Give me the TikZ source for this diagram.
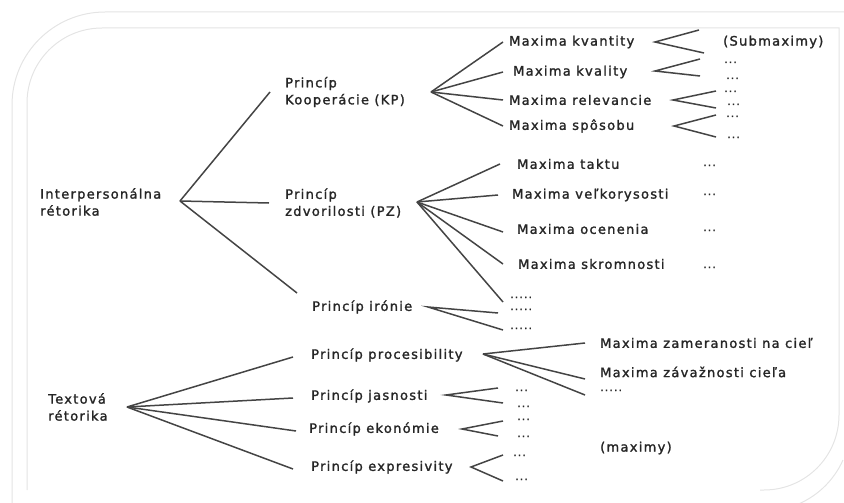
\documentclass[tikz,border=0pt]{standalone}
\usepackage{fontspec}
\usepackage{tikz}
\newfontfamily\diagfont{DejaVu Sans}[LetterSpace=10, FakeBold=1.6]
\newcommand\lbl{\diagfont\fontsize{13}{17}\selectfont}
\definecolor{ink}{HTML}{262626}
\definecolor{wire}{HTML}{444444}
\definecolor{rimgray}{HTML}{E4E4E4}

\begin{document}
\begin{tikzpicture}[x=1pt, y=-1pt,
  every node/.style={anchor=west, inner sep=0pt, text=ink, font=\lbl},
  dots/.style={anchor=base west, text height=2pt, text depth=0pt, font=\diagfont\fontsize{11}{13}\selectfont},
  wire/.style={draw=wire, line width=1.5pt},
  rim/.style={draw=rimgray, line width=1pt}]
  \useasboundingbox (0,0) rectangle (844,503);

  % faint frame
  \draw[rim] (12,503) -- (12,105) arc[start angle=180, end angle=270, radius=93] -- (844,12);
  \draw[rim] (27,490) -- (27,103) arc[start angle=180, end angle=270, radius=75] -- (839,28)
    -- (839,415) arc[start angle=0, end angle=90, radius=75] -- (760,490);
  \draw[rim] (843,460) arc[start angle=24, end angle=70, radius=86];

  % roots
  \node[align=left] (ip) at (40,202) {Interpersonálna\\rétorika};
  \node[align=left] (tr) at (48,407) {Textová\\rétorika};
  \coordinate (iphub) at (180,201);
  \coordinate (trhub) at (127,407);

  % interpersonal principles
  \node[align=left] (kp) at (285,92) {Princíp\\Kooperácie (KP)};
  \node[align=left] (pz) at (285,203) {Princíp\\zdvorilosti (PZ)};
  \node (ir) at (312,307) {Princíp irónie};
  \coordinate (irin) at (297,293);
  \coordinate (kphub) at (431,92);
  \coordinate (pzhub) at (417,202);
  \coordinate (irtip) at (428,307);

  \draw[wire] (iphub) -- ([xshift=-15pt]kp.west);
  \draw[wire] (iphub) -- ([xshift=-16pt]pz.west);
  \draw[wire] (iphub) -- (irin);

  % KP maxims
  \node (mkvant) at (509,42) {Maxima kvantity};
  \node (mkval) at (513,72) {Maxima kvality};
  \node (mrel) at (509,100) {Maxima relevancie};
  \node (msp) at (509,126) {Maxima spôsobu};

  \draw[wire] (kphub) -- ([xshift=-6pt]mkvant.west);
  \draw[wire] (kphub) -- ([xshift=-10pt]mkval.west);
  \draw[wire] (kphub) -- ([xshift=-6pt]mrel.west);
  \draw[wire] (kphub) -- ([xshift=-6pt]msp.west);

  \node (submax) at (723,42) {(Submaximy)};
  \node[dots] (s1) at (724,63) {...};
  \node[dots] (s2) at (726,79) {...};
  \node[dots] (s3) at (724,92) {...};
  \node[dots] (s4) at (727,105) {...};
  \node[dots] (s5) at (726,117) {...};
  \node[dots] (s6) at (727,138) {...};

  \coordinate (kvanttip) at (655,42);
  \coordinate (kvantup) at (699,30);
  \coordinate (kvantdn) at (704,53);
  \draw[wire] (kvantup) -- (kvanttip) -- (kvantdn);
  \coordinate (kvaltip) at (655,71);
  \draw[wire] ([xshift=-24pt,yshift=3pt]s1.west) -- (kvaltip) -- ([xshift=-26pt,yshift=2pt]s2.west);
  \coordinate (reltip) at (673,100);
  \draw[wire] ([xshift=-8pt]s3.west) -- (reltip) -- ([xshift=-11pt,yshift=-4pt]s4.west);
  \coordinate (sptip) at (674,126);
  \draw[wire] ([xshift=-10pt,yshift=1pt]s5.west) -- (sptip) -- ([xshift=-11pt]s6.west);

  % PZ maxims
  \node (mt) at (517,164) {Maxima taktu};
  \node (mv) at (512,195) {Maxima veľkorysosti};
  \node (mo) at (517,229) {Maxima ocenenia};
  \node (ms) at (518,264) {Maxima skromnosti};
  \node[dots] (pzmore) at (510,298) {.....};

  \draw[wire] (pzhub) -- ([xshift=-17pt]mt.west);
  \draw[wire] (pzhub) -- ([xshift=-14pt]mv.west);
  \draw[wire] (pzhub) -- ([xshift=-14pt,yshift=-3pt]mo.west);
  \draw[wire] (pzhub) -- ([xshift=-15pt]ms.west);
  \draw[wire] (pzhub) -- ([xshift=-7pt,yshift=-5pt]pzmore.west);

  \node[dots] (t1) at (703,166) {...};
  \node[dots] (t2) at (703,195) {...};
  \node[dots] (t3) at (703,231) {...};
  \node[dots] (t4) at (703,268) {...};

  % irony
  \node[dots] (ir1) at (510,310) {.....};
  \node[dots] (ir2) at (510,329) {.....};
  \draw[wire] ([xshift=-12pt,yshift=-4pt]ir1.west) -- (irtip) -- ([xshift=-7pt,yshift=-2pt]ir2.west);

  % textual principles
  \node (pp) at (311,355) {Princíp procesibility};
  \node (pj) at (311,396) {Princíp jasnosti};
  \node (pe) at (309,429) {Princíp ekonómie};
  \node (px) at (311,467) {Princíp expresivity};

  \draw[wire] (trhub) -- ([xshift=-18pt,yshift=-2pt]pp.west);
  \draw[wire] (trhub) -- ([xshift=-18pt,yshift=-2pt]pj.west);
  \draw[wire] (trhub) -- ([xshift=-13pt,yshift=-2pt]pe.west);
  \draw[wire] (trhub) -- ([xshift=-18pt,yshift=-2pt]px.west);

  \node (mz) at (600,343) {Maxima zameranosti na cieľ};
  \node (mzv) at (600,372) {Maxima závažnosti cieľa};
  \node[dots] (ppmore) at (600,391) {.....};
  \node (maximy) at (600,448) {(maximy)};

  \coordinate (pptip) at (483,354);
  \draw[wire] (pptip) -- ([xshift=-15pt]mz.west);
  \draw[wire] (pptip) -- ([xshift=-15pt,yshift=-7pt]mzv.west);
  \draw[wire] (pptip) -- ([xshift=-15pt,yshift=-5pt]ppmore.west);

  \node[dots] (j1) at (515,391) {...};
  \node[dots] (j2) at (517,407) {...};
  \node[dots] (e1) at (517,420) {...};
  \node[dots] (e2) at (517,437) {...};
  \node[dots] (x1) at (513,456) {...};
  \node[dots] (x2) at (515,480) {...};

  \coordinate (pjtip) at (446,395);
  \draw[wire] ([xshift=-17pt,yshift=2pt]j1.west) -- (pjtip) -- ([xshift=-14pt,yshift=3pt]j2.west);
  \coordinate (petip) at (462,429);
  \draw[wire] ([xshift=-14pt,yshift=-2pt]e1.west) -- (petip) -- ([xshift=-19pt]e2.west);
  \coordinate (pxtip) at (471,467);
  \draw[wire] ([xshift=-10pt]x1.west) -- (pxtip) -- ([xshift=-12pt,yshift=-2pt]x2.west);
\end{tikzpicture}
\end{document}
